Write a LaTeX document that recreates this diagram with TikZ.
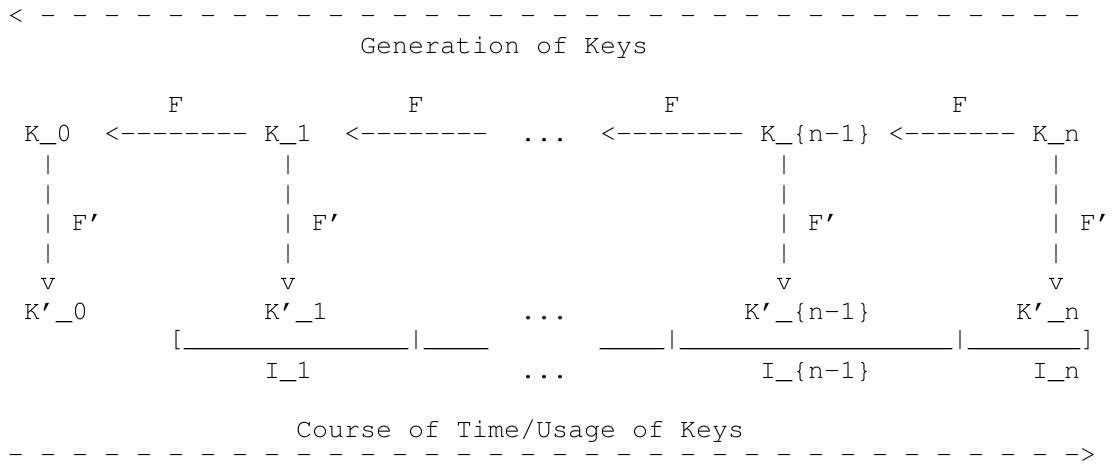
\documentclass[tikz,border=0pt]{standalone}
\usepackage[T1,TU]{fontenc}
\newcommand{\asciifont}{\fontencoding{T1}\fontfamily{pcr}\fontsize{26.67}{30}\selectfont}
\newcommand{\unders}[1]{\foreach \i in {1,...,#1}{\_}}
\tikzset{asc/.style={anchor=base west, inner sep=0pt, outer sep=0pt, font=\asciifont}}

\begin{document}
\begin{tikzpicture}[x=1pt,y=-1pt]
\useasboundingbox (0,0) rectangle (1114,464);
\node[asc] (genarrow) at (8,23.5) {<};
\foreach \c in {2,4,...,66}
  \node[asc] (gen-\c) at ({8+16*\c},23.5) {-};
\node[asc] (gentitle) at ({8+16*22},53.1) {Generation of Keys};
\foreach \c/\n in {10/f1,25/f2,41/f3,59/f4}
  \node[asc] (\n) at ({8+16*\c},112.3) {F};
\node[asc] (k0) at ({8+16*1},141.9) {K\_0};
\node[asc] (a1) at ({8+16*6},141.9) {<-{}-{}-{}-{}-{}-{}-{}-};
\node[asc] (k1) at ({8+16*16},141.9) {K\_1};
\node[asc] (a2) at ({8+16*21},141.9) {<-{}-{}-{}-{}-{}-{}-{}-};
\node[asc] (kdots) at ({8+16*32},141.9) {...};
\node[asc] (a3) at ({8+16*37},141.9) {<-{}-{}-{}-{}-{}-{}-{}-};
\node[asc] (knm) at ({8+16*47},141.9) {K\_\{n-1\}};
\node[asc] (a4) at ({8+16*55},141.9) {<-{}-{}-{}-{}-{}-{}-};
\node[asc] (kn) at ({8+16*64},141.9) {K\_n};
\foreach \c in {2,17,48,65}{
  \foreach \r/\y in {1/171.5,2/201.1,3/230.7,4/260.3}
    \node[asc] (bar-\c-\r) at ({8+16*\c},\y) {|};
  \node[asc] (fp-\c) at ({8+16*(\c+2)},230.7) {F'};
  \node[asc] (v-\c) at ({8+16*\c},289.9) {v};
}
\node[asc] (kp0) at ({8+16*1},319.5) {K'\_0};
\node[asc] (kp1) at ({8+16*16},319.5) {K'\_1};
\node[asc] (kpdots) at ({8+16*32},319.5) {...};
\node[asc] (kpnm) at ({8+16*46},319.5) {K'\_\{n-1\}};
\node[asc] (kpn) at ({8+16*63},319.5) {K'\_n};
\node[asc] (ileft) at ({8+16*10},346) {[\unders{14}|\unders{4}};
\node[asc] (iright) at ({8+16*37},346) {\unders{4}|\unders{17}|\unders{7}]};
\node[asc] (i1) at ({8+16*16},378.7) {I\_1};
\node[asc] (idots) at ({8+16*32},378.7) {...};
\node[asc] (inm) at ({8+16*47},378.7) {I\_\{n-1\}};
\node[asc] (in) at ({8+16*64},378.7) {I\_n};
\node[asc] (usetitle) at ({8+16*18},437) {Course of Time/Usage of Keys};
\foreach \c in {0,2,...,64}
  \node[asc] (use-\c) at ({8+16*\c},462) {-};
\node[asc] (usearrow) at ({8+16*66},462) {->};
\end{tikzpicture}
\end{document}
